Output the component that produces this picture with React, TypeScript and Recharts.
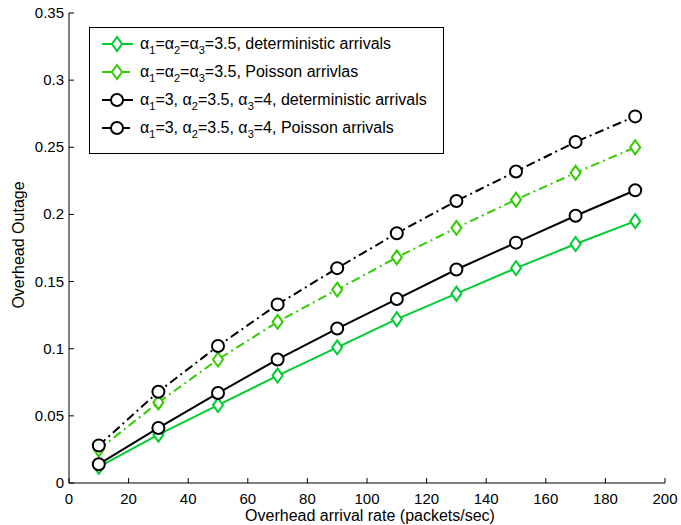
import React from 'react';
import { LineChart, Line, XAxis, YAxis, Legend } from 'recharts';

const rates = [10, 30, 50, 70, 90, 110, 130, 150, 170, 190];
const eqDet = [0.012, 0.036, 0.058, 0.080, 0.101, 0.122, 0.141, 0.160, 0.178, 0.195];
const eqPois = [0.025, 0.060, 0.092, 0.120, 0.144, 0.168, 0.190, 0.211, 0.231, 0.250];
const difDet = [0.014, 0.041, 0.067, 0.092, 0.115, 0.137, 0.159, 0.179, 0.199, 0.218];
const difPois = [0.028, 0.068, 0.102, 0.133, 0.160, 0.186, 0.210, 0.232, 0.254, 0.273];

const xTicks = [0, 20, 40, 60, 80, 100, 120, 140, 160, 180, 200];
const yTicks = [0, 0.05, 0.1, 0.15, 0.2, 0.25, 0.3, 0.35];

const GREEN_DET = '#00CC33';
const GREEN_POIS = '#33CC00';
const BLACK = '#000000';
const DASHDOT = '9 4 2 4';
const FONT = '"Liberation Sans", Arial, Helvetica, sans-serif';

const data = rates.map((r, i) => ({
  x: r,
  eqDet: eqDet[i],
  eqPois: eqPois[i],
  difDet: difDet[i],
  difPois: difPois[i],
}));

const Diamond = (props: any) => {
  const { cx, cy, stroke } = props;
  if (cx == null || cy == null) return null;
  return (
    <path
      d={`M${cx},${cy - 7} L${cx + 5},${cy} L${cx},${cy + 7} L${cx - 5},${cy} Z`}
      fill="#fff"
      stroke={stroke}
      strokeWidth={2}
    />
  );
};

const Circle = (props: any) => {
  const { cx, cy, stroke } = props;
  if (cx == null || cy == null) return null;
  return <circle cx={cx} cy={cy} r={6} fill="#fff" stroke={stroke} strokeWidth={2} />;
};

const BottomTick = (props: any) => {
  const { x, y, payload } = props;
  return (
    <g>
      <line x1={x} x2={x} y1={y} y2={y - 5} stroke="#000" strokeWidth={1} />
      <text x={x} y={y + 21} textAnchor="middle" fontSize={15} fontFamily={FONT} fill="#000">
        {payload.value}
      </text>
    </g>
  );
};

const LeftTick = (props: any) => {
  const { x, y, payload } = props;
  return (
    <g>
      <line x1={x} x2={x + 5} y1={y} y2={y} stroke="#000" strokeWidth={1} />
      <text x={x - 5} y={y + 5} textAnchor="end" fontSize={15} fontFamily={FONT} fill="#000">
        {String(payload.value)}
      </text>
    </g>
  );
};

const TopTick = (props: any) => {
  const { x, y } = props;
  return <line x1={x} x2={x} y1={y} y2={y + 5} stroke="#000" strokeWidth={1} />;
};

const RightTick = (props: any) => {
  const { x, y } = props;
  return <line x1={x} x2={x - 5} y1={y} y2={y} stroke="#000" strokeWidth={1} />;
};

const legendRows = [
  { color: GREEN_DET, dash: undefined, marker: 'diamond', kind: 'eq', tail: 'deterministic arrivals' },
  { color: GREEN_POIS, dash: DASHDOT, marker: 'diamond', kind: 'eq', tail: 'Poisson arrivlas' },
  { color: BLACK, dash: undefined, marker: 'circle', kind: 'dif', tail: 'deterministic arrivals' },
  { color: BLACK, dash: DASHDOT, marker: 'circle', kind: 'dif', tail: 'Poisson arrivals' },
];

const LegendContent = () => (
  <svg width={356} height={128} style={{ display: 'block' }}>
    <rect x={0.5} y={0.5} width={354} height={126} fill="#fff" stroke="#000" strokeWidth={1} />
    {legendRows.map((r, i) => {
      const cy = 17 + i * 28;
      return (
        <g key={i}>
          <line x1={13} x2={44} y1={cy} y2={cy} stroke={r.color} strokeWidth={2} strokeDasharray={r.dash} />
          {r.marker === 'diamond' ? (
            <Diamond cx={28} cy={cy} stroke={r.color} />
          ) : (
            <Circle cx={28} cy={cy} stroke={r.color} />
          )}
          <text x={51} y={cy + 5} fontSize={16} fontFamily={FONT} fill="#000">
            {r.kind === 'eq' ? (
              <>
                α<tspan dy={5} fontSize={11}>1</tspan>
                <tspan dy={-5}>=α</tspan>
                <tspan dy={5} fontSize={11}>2</tspan>
                <tspan dy={-5}>=α</tspan>
                <tspan dy={5} fontSize={11}>3</tspan>
                <tspan dy={-5}>{`=3.5, ${r.tail}`}</tspan>
              </>
            ) : (
              <>
                α<tspan dy={5} fontSize={11}>1</tspan>
                <tspan dy={-5}>=3, α</tspan>
                <tspan dy={5} fontSize={11}>2</tspan>
                <tspan dy={-5}>=3.5, α</tspan>
                <tspan dy={5} fontSize={11}>3</tspan>
                <tspan dy={-5}>{`=4, ${r.tail}`}</tspan>
              </>
            )}
          </text>
        </g>
      );
    })}
  </svg>
);

export default function App() {
  return (
    <div style={{ position: 'absolute', left: 0, top: 0, width: 681, height: 525, background: '#fff' }}>
      <LineChart
        width={681}
        height={525}
        data={data}
        margin={{ top: 13, right: 16, bottom: 0, left: 0 }}
      >
        <XAxis
          dataKey="x"
          type="number"
          domain={[0, 200]}
          ticks={xTicks}
          height={42}
          stroke="#000"
          tickSize={0}
          tickMargin={0}
          tick={<BottomTick />}
          interval={0}
          allowDataOverflow
        />
        <XAxis
          xAxisId="top"
          orientation="top"
          type="number"
          dataKey="x"
          domain={[0, 200]}
          ticks={xTicks}
          height={0}
          stroke="#000"
          tickSize={0}
          tickMargin={0}
          tick={<TopTick />}
          interval={0}
        />
        <YAxis
          type="number"
          domain={[0, 0.35]}
          ticks={yTicks}
          width={69}
          stroke="#000"
          tickSize={0}
          tickMargin={0}
          tick={<LeftTick />}
          interval={0}
          allowDataOverflow
        />
        <YAxis
          yAxisId="right"
          orientation="right"
          type="number"
          domain={[0, 0.35]}
          ticks={yTicks}
          width={0}
          stroke="#000"
          tickSize={0}
          tickMargin={0}
          tick={<RightTick />}
          interval={0}
        />
        <Legend
          layout="vertical"
          align="center"
          verticalAlign="middle"
          content={<LegendContent />}
          wrapperStyle={{ left: 89, top: 27, width: 356, height: 128 }}
        />
        <Line
          dataKey="eqDet"
          stroke={GREEN_DET}
          strokeWidth={2}
          dot={<Diamond />}
          isAnimationActive={false}
        />
        <Line
          dataKey="eqPois"
          stroke={GREEN_POIS}
          strokeWidth={2}
          strokeDasharray={DASHDOT}
          dot={<Diamond />}
          isAnimationActive={false}
        />
        <Line
          dataKey="difDet"
          stroke={BLACK}
          strokeWidth={2}
          dot={<Circle />}
          isAnimationActive={false}
        />
        <Line
          dataKey="difPois"
          stroke={BLACK}
          strokeWidth={2}
          strokeDasharray={DASHDOT}
          dot={<Circle />}
          isAnimationActive={false}
        />
      </LineChart>
      <svg width={681} height={525} style={{ position: 'absolute', left: 0, top: 0, pointerEvents: 'none' }}>
        <text
          transform="translate(24,245) rotate(-90)"
          textAnchor="middle"
          fontSize={16}
          fontFamily={FONT}
          fill="#000"
        >
          Overhead Outage
        </text>
        <text x={370} y={521} textAnchor="middle" fontSize={16} fontFamily={FONT} fill="#000">
          Overhead arrival rate (packets/sec)
        </text>
      </svg>
    </div>
  );
}
